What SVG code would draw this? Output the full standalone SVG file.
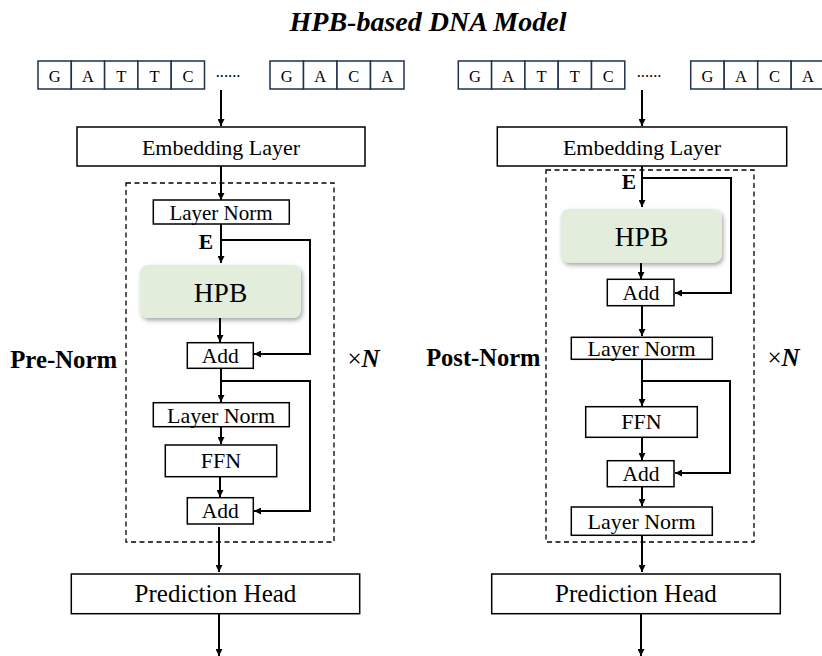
<svg xmlns="http://www.w3.org/2000/svg" width="822" height="656" viewBox="0 0 822 656" font-family="'Liberation Serif', 'DejaVu Serif', serif">
<defs>
<marker id="ah" viewBox="0 0 10 10" refX="10" refY="5" markerWidth="7" markerHeight="7" markerUnits="userSpaceOnUse" orient="auto">
<path d="M0,0 L10,5 L0,10 z" fill="#000"/>
</marker>
<filter id="sh" x="-10%" y="-10%" width="125%" height="135%">
<feDropShadow dx="1.5" dy="2.5" stdDeviation="2" flood-color="#000" flood-opacity="0.35"/>
</filter>
</defs>
<style>
text{font-family:'Liberation Serif','DejaVu Serif',serif;fill:#000;text-anchor:middle}
.box{fill:#fff;stroke:#000;stroke-width:1.5}
.cell{fill:#fff;stroke:#1f3050;stroke-width:1.5}
.hpb{fill:#e2eedb;stroke:none}
.dash{fill:none;stroke:#000;stroke-width:1.3;stroke-dasharray:5,3.5}
.ar{fill:none;stroke:#000;stroke-width:2;marker-end:url(#ah)}
.t16{font-size:16.5px}
.ln{font-size:22px}
.t21{font-size:21.5px}
.t22{font-size:22px}
.t25{font-size:25px}
.hp{font-size:27.5px}
.lbl{font-size:24.8px;font-weight:bold}
.e{font-size:21.5px;font-weight:bold}
</style>
<rect width="822" height="656" fill="#fff"/>
<text x="428" y="31" style="font-size:28px;font-weight:bold;font-style:italic">HPB-based DNA Model</text>

<g id="dna-left">
<rect class="cell" x="38" y="61" width="33.3" height="28"/><text class="t16" x="54.7" y="81.5">G</text>
<rect class="cell" x="71.3" y="61" width="33.3" height="28"/><text class="t16" x="88" y="81.5">A</text>
<rect class="cell" x="104.6" y="61" width="33.3" height="28"/><text class="t16" x="121.3" y="81.5">T</text>
<rect class="cell" x="137.9" y="61" width="33.3" height="28"/><text class="t16" x="154.6" y="81.5">T</text>
<rect class="cell" x="171.2" y="61" width="33.3" height="28"/><text class="t16" x="187.9" y="81.5">C</text>
<text class="t16" x="228" y="77">......</text>
<rect class="cell" x="270" y="61" width="33.5" height="28"/><text class="t16" x="286.8" y="81.5">G</text>
<rect class="cell" x="303.5" y="61" width="33.5" height="28"/><text class="t16" x="320.3" y="81.5">A</text>
<rect class="cell" x="337" y="61" width="33.5" height="28"/><text class="t16" x="353.8" y="81.5">C</text>
<rect class="cell" x="370.5" y="61" width="33.5" height="28"/><text class="t16" x="387.3" y="81.5">A</text>
</g>
<g id="dna-right">
<rect class="cell" x="458.3" y="61" width="33.3" height="28"/><text class="t16" x="475" y="81.5">G</text>
<rect class="cell" x="491.6" y="61" width="33.3" height="28"/><text class="t16" x="508.3" y="81.5">A</text>
<rect class="cell" x="524.9" y="61" width="33.3" height="28"/><text class="t16" x="541.6" y="81.5">T</text>
<rect class="cell" x="558.2" y="61" width="33.3" height="28"/><text class="t16" x="574.9" y="81.5">T</text>
<rect class="cell" x="591.5" y="61" width="33.3" height="28"/><text class="t16" x="608.2" y="81.5">C</text>
<text class="t16" x="649" y="77">......</text>
<rect class="cell" x="690.7" y="61" width="33.5" height="28"/><text class="t16" x="707.5" y="81.5">G</text>
<rect class="cell" x="724.2" y="61" width="33.5" height="28"/><text class="t16" x="741" y="81.5">A</text>
<rect class="cell" x="757.7" y="61" width="33.5" height="28"/><text class="t16" x="774.5" y="81.5">C</text>
<rect class="cell" x="791.2" y="61" width="33.5" height="28"/><text class="t16" x="808" y="81.5">A</text>
</g>

<g id="pre-frame"><rect class="dash" x="126" y="183" width="208" height="359"/></g>
<g id="post-frame"><rect class="dash" x="546" y="170" width="208" height="372"/></g>

<g id="connectors">
<line class="ar" x1="221" y1="90" x2="221" y2="126"/>
<line class="ar" x1="221" y1="166" x2="221" y2="200"/>
<line class="ar" x1="221" y1="224" x2="221" y2="263"/>
<polyline class="ar" points="221,240 310,240 310,354 254,354"/>
<line class="ar" x1="220" y1="318" x2="220" y2="342"/>
<line class="ar" x1="221" y1="368" x2="221" y2="402"/>
<polyline class="ar" points="221,381 310,381 310,511 254,511"/>
<line class="ar" x1="221" y1="427" x2="221" y2="444"/>
<line class="ar" x1="220" y1="477" x2="220" y2="497"/>
<line class="ar" x1="219" y1="527" x2="219" y2="572"/>
<line class="ar" x1="219" y1="614" x2="219" y2="656"/>
<line class="ar" x1="642" y1="90" x2="642" y2="126"/>
<line class="ar" x1="642" y1="166" x2="642" y2="207"/>
<polyline class="ar" points="642,178 731,178 731,293 675,293"/>
<line class="ar" x1="641" y1="263" x2="641" y2="279"/>
<line class="ar" x1="642" y1="306" x2="642" y2="336"/>
<line class="ar" x1="642" y1="359" x2="642" y2="406"/>
<polyline class="ar" points="642,381 730,381 730,473 675,473"/>
<line class="ar" x1="642" y1="437" x2="642" y2="460"/>
<line class="ar" x1="642" y1="487" x2="642" y2="506"/>
<line class="ar" x1="642" y1="535" x2="642" y2="572"/>
<line class="ar" x1="641" y1="614" x2="641" y2="656"/>
</g>

<g id="emb-left"><rect class="box" x="77" y="127" width="288" height="39"/><text class="t22" x="221" y="155">Embedding Layer</text></g>
<g id="ln1-left"><rect class="box" x="153.3" y="200" width="136" height="24"/><text class="ln" x="221" y="220" style="font-size:21px">Layer Norm</text></g>
<text class="e" x="206" y="249">E</text>
<g id="hpb-left"><rect class="hpb" x="140" y="265" width="161" height="53" rx="8" filter="url(#sh)"/><text class="hp" x="220.5" y="302">HPB</text></g>
<g id="add1-left"><rect class="box" x="187.3" y="342.7" width="66" height="25.6"/><text class="t21" x="220.3" y="363">Add</text></g>
<g id="ln2-left"><rect class="box" x="153.3" y="402.7" width="136" height="24"/><text class="ln" x="221" y="423">Layer Norm</text></g>
<g id="ffn-left"><rect class="box" x="165.3" y="445" width="111.4" height="31.7"/><text class="t22" x="221" y="468">FFN</text></g>
<g id="add2-left"><rect class="box" x="187.3" y="497.7" width="66" height="26.3"/><text class="t21" x="220.3" y="518">Add</text></g>
<g id="pred-left"><rect class="box" x="71.3" y="574" width="288.4" height="39.7"/><text class="t25" x="215.5" y="602">Prediction Head</text></g>
<text class="lbl" x="63.7" y="367.5">Pre-Norm</text>
<text x="363.5" y="367" style="font-size:25px"><tspan>×</tspan><tspan style="font-weight:bold;font-style:italic">N</tspan></text>

<g id="emb-right"><rect class="box" x="497.3" y="127" width="289.4" height="39"/><text class="t22" x="642" y="155">Embedding Layer</text></g>
<text class="e" x="629" y="189">E</text>
<g id="hpb-right"><rect class="hpb" x="561" y="209" width="160.7" height="53.7" rx="8" filter="url(#sh)"/><text class="hp" x="641.5" y="246">HPB</text></g>
<g id="add1-right"><rect class="box" x="607.3" y="279.3" width="66.7" height="26.4"/><text class="t21" x="641" y="299.5">Add</text></g>
<g id="ln1-right"><rect class="box" x="571.3" y="337.3" width="141" height="22"/><text class="ln" x="641.5" y="356">Layer Norm</text></g>
<g id="ffn-right"><rect class="box" x="585.7" y="406.7" width="111.6" height="30.6"/><text class="t22" x="641.5" y="429">FFN</text></g>
<g id="add2-right"><rect class="box" x="607.3" y="460.7" width="66.7" height="26"/><text class="t21" x="641" y="481">Add</text></g>
<g id="ln2-right"><rect class="box" x="571.3" y="507" width="141" height="28.3"/><text class="ln" x="641.5" y="528.5">Layer Norm</text></g>
<g id="pred-right"><rect class="box" x="491.7" y="574" width="288.6" height="39.7"/><text class="t25" x="636" y="602">Prediction Head</text></g>
<text class="lbl" x="483.3" y="366" style="font-size:24.5px">Post-Norm</text>
<text x="783.5" y="366" style="font-size:25px"><tspan>×</tspan><tspan style="font-weight:bold;font-style:italic">N</tspan></text>
</svg>
